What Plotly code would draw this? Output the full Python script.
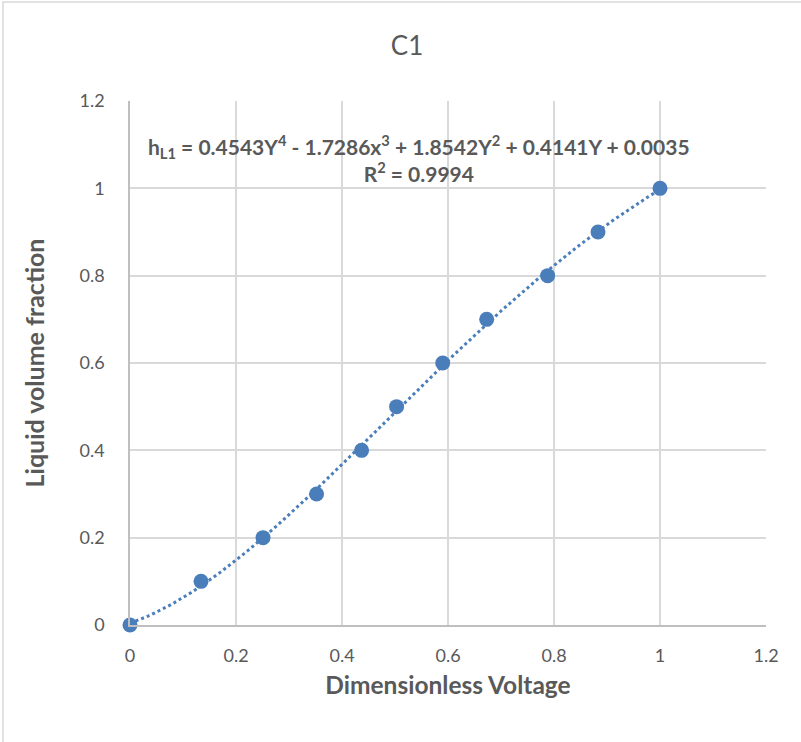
import numpy as np
import plotly.graph_objects as go

# Data
voltage = [0.0, 0.134, 0.251, 0.352, 0.437, 0.503, 0.590, 0.673, 0.788, 0.883, 1.0]
fraction = [0.0, 0.1, 0.2, 0.3, 0.4, 0.5, 0.6, 0.7, 0.8, 0.9, 1.0]
tick_vals = [0, 0.2, 0.4, 0.6, 0.8, 1, 1.2]
tick_text = ["0", "0.2", "0.4", "0.6", "0.8", "1", "1.2"]

title_text = "C1"
x_title = "Dimensionless Voltage"
y_title = "Liquid volume fraction"
equation = ("h<sub>L1</sub> = 0.4543Y<sup>4</sup> - 1.7286x<sup>3</sup> + 1.8542Y<sup>2</sup> + 0.4141Y + 0.0035"
            "<br>R<sup>2</sup> = 0.9994")

# Polynomial trendline (degree 4) fitted from the data
coef = np.polyfit(voltage, fraction, 4)
xs = np.linspace(min(voltage), max(voltage), 200)
ys = np.polyval(coef, xs)

W, H = 801, 742
L, R, T, B = 130, 35, 101, 117
pw, ph = W - L - R, H - T - B

blue = "#4a7ebb"
gray_text = "#595959"
grid = "#d9d9d9"

fig = go.Figure()
fig.add_trace(go.Scatter(x=xs, y=ys, mode="lines",
                         line=dict(color=blue, width=3, dash="dot"),
                         hoverinfo="skip", showlegend=False, cliponaxis=False))
fig.add_trace(go.Scatter(x=voltage, y=fraction, mode="markers",
                         marker=dict(color=blue, size=15),
                         showlegend=False, cliponaxis=False))

fig.update_layout(
    width=W, height=H,
    margin=dict(l=L, r=R, t=T, b=B, autoexpand=False),
    paper_bgcolor="white", plot_bgcolor="white",
    font=dict(family="Lato, Carlito, sans-serif", color=gray_text),
    title=dict(text=title_text, x=(407) / W, xanchor="center",
               y=1 - 46 / H, yanchor="middle",
               font=dict(size=26, color=gray_text)),
    xaxis=dict(range=[0, 1.2], tickvals=tick_vals, ticktext=tick_text,
               showgrid=True, gridcolor=grid, gridwidth=1.5,
               showline=True, linecolor="#bfbfbf", linewidth=1.5,
               zeroline=False, ticks="", ticklabelstandoff=14,
               tickfont=dict(size=18, color=gray_text),
               title=dict(text=x_title, standoff=12,
                          font=dict(size=24.5, color=gray_text, weight="bold"))),
    yaxis=dict(range=[0, 1.2], tickvals=tick_vals, ticktext=tick_text,
               showgrid=True, gridcolor=grid, gridwidth=1.5,
               showline=True, linecolor="#bfbfbf", linewidth=1.5,
               zeroline=False, ticks="", ticklabelstandoff=20,
               tickfont=dict(size=18, color=gray_text),
               title=dict(text=y_title, standoff=28,
                          font=dict(size=25, color=gray_text, weight="bold"))),
)

fig.add_annotation(text=equation, xref="paper", yref="paper",
                   x=(419 - L) / pw, y=1 - (158 - T) / ph,
                   xanchor="center", yanchor="middle", showarrow=False,
                   align="center",
                   font=dict(size=21, color=gray_text, weight="bold"))

# chart border
fig.add_shape(type="rect", xref="paper", yref="paper",
              x0=(3 - L) / pw, x1=(W + 20 - L) / pw,
              y0=-(H + 20 - T - ph) / ph, y1=1 + (T - 2) / ph,
              line=dict(color="#d9d9d9", width=1.5), layer="below")

fig.write_html("out.html")
